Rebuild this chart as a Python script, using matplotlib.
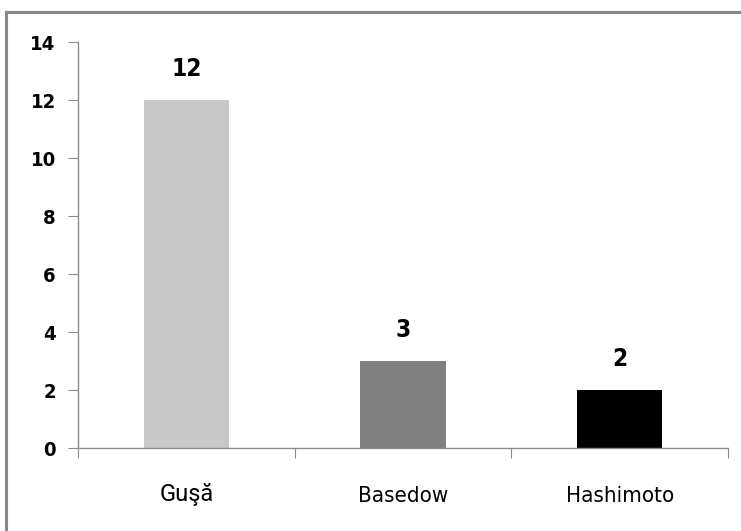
import matplotlib
matplotlib.use("Agg")
import matplotlib.pyplot as plt
from matplotlib.lines import Line2D

categories = ["Guşă", "Basedow", "Hashimoto"]
values = [12, 3, 2]
colors = ["#c8c8c8", "#808080", "#000000"]
yticks = [0, 2, 4, 6, 8, 10, 12, 14]

plt.rcParams['font.family'] = ['DejaVu Sans']

fig = plt.figure(figsize=(7.41, 5.31), dpi=100)
ax = fig.add_axes([78/741, 1-448/531, 650/741, 406/531])

x = list(range(len(categories)))
ax.bar(x, values, width=0.395, color=colors, zorder=2)
ax.set_xlim(-0.5, 2.5)
ax.set_ylim(0, 14)
ax.set_yticks(yticks)
ax.set_yticklabels([str(t) for t in yticks], fontsize=14.5, fontweight='bold', fontstretch='condensed')
ax.set_xticks([-0.5, 0.5, 1.5, 2.5], minor=False)
ax.set_xticklabels([])
ax.tick_params(axis='x', length=7, color='#8c8c8c', direction='out')
ax.tick_params(axis='y', length=7, color='#8c8c8c', direction='out', pad=9)
for s in ['top', 'right']:
    ax.spines[s].set_visible(False)
for s in ['left', 'bottom']:
    ax.spines[s].set_color('#8c8c8c')
    ax.spines[s].set_linewidth(1)

for i, (c, v) in enumerate(zip(categories, values)):
    ax.annotate(str(v), (i, v), xytext=(0, 31), textcoords='offset pixels',
                ha='center', va='center', fontsize=17.5, fontweight='bold', fontstretch='condensed')
    if i == 0:
        ax.annotate(c, (i, 0), xytext=(0, -46), textcoords='offset pixels',
                    ha='center', va='center', fontsize=17, family=['Roboto', 'DejaVu Sans'])
    else:
        ax.annotate(c, (i, 0), xytext=(0, -48), textcoords='offset pixels',
                    ha='center', va='center', fontsize=16, fontstretch='condensed')

# figure border (top and left visible)
fig.add_artist(Line2D([6/741, 1.0], [1-12/531, 1-12/531], transform=fig.transFigure,
                      color='#888888', linewidth=2.2))
fig.add_artist(Line2D([6/741, 6/741], [0, 1-12/531], transform=fig.transFigure,
                      color='#888888', linewidth=2.2))

fig.savefig("out.png", dpi=100)
